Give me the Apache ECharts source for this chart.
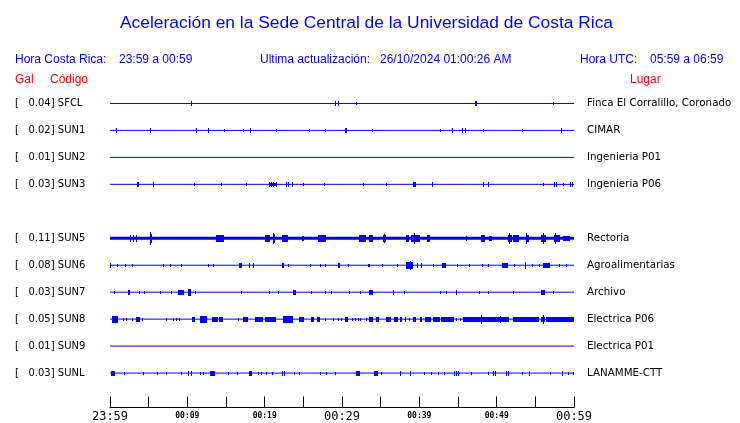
<!DOCTYPE html>
<html><head><meta charset="utf-8">
<script src="https://cdn.jsdelivr.net/npm/echarts@6/dist/echarts.min.js"></script>
<style>html,body{margin:0;padding:0;background:#fff}#c{width:740px;height:423px}</style>
</head><body><div id="c"></div>
<script>
// ---- data ----
const stations = ['SFCL','SUN1','SUN2','SUN3','','SUN5','SUN6','SUN7','SUN8','SUN9','SUNL'];
const galValues = ['0.04','0.02','0.01','0.03','','0.11','0.08','0.03','0.05','0.01','0.03'];
const places = ['Finca El Corralillo, Coronado','CIMAR','Ingenieria P01','Ingenieria P06','','Rectoria','Agroalimentarias','Archivo','Electrica P06','Electrica P01','LANAMME-CTT'];
// time axis: minutes after 23:59
const tickLabels = ['23:59','','00:09','','00:19','','00:29','','00:39','','00:49','','00:59'];
const bigTickLabels = ['23:59','00:29','00:59'];
// events: [start minute, end minute, half amplitude]
const evSFCL = [[10.6,10.6,0.5],[29.1,29.1,0.7],[29.6,29.6,0.7],[31.9,31.9,0.4],[47.3,47.5,0.5],[57.4,57.4,0.4]];
const evSUN1 = [[0.8,0.8,0.5],[5.3,5.3,0.5],[11.2,11.2,0.5],[12.7,12.7,0.5],[14.8,14.8,0.3],[17.2,17.2,0.3],[18.2,18.2,0.5],[21.5,21.5,0.3],[25.8,25.8,0.4],[27.9,27.9,0.3],[30.5,30.7,0.5],[34.0,34.0,0.3],[42.7,42.7,0.3],[44.3,44.3,0.5],[45.6,45.6,0.5],[46.0,46.0,0.5],[48.3,48.3,0.3],[53.3,53.3,0.4],[58.4,58.4,0.5]];
const evSUN2 = [];
const evSUN3 = [[3.55,3.75,0.6],[5.6,5.6,0.5],[10.9,10.9,0.3],[14.4,14.4,0.3],[17.6,17.6,0.4],[20.6,21.5,0.4],[20.6,20.6,0.7],[20.9,20.9,0.7],[21.2,21.2,0.7],[21.5,21.5,0.7],[22.85,22.85,0.6],[23.1,23.1,0.6],[23.6,23.6,0.5],[25.0,25.0,0.3],[27.8,27.8,0.3],[32.75,32.75,0.4],[35.7,35.7,0.4],[39.3,39.6,0.6],[41.7,41.7,0.5],[48.3,48.3,0.5],[48.9,48.9,0.5],[56.0,56.0,0.4],[57.45,57.45,0.5],[57.7,57.9,0.6],[58.6,58.6,0.4],[59.5,59.5,0.5],[59.8,59.8,0.5]];
const evSUN5 = [[2.7,2.7,0.9],[3.0,3.0,0.9],[3.45,3.45,0.9],[5.2,5.2,1.8],[5.2,5.5,1.1],[13.8,14.75,0.9],[20.1,20.8,0.9],[21.1,21.4,1.1],[21.2,21.2,1.6],[22.3,23.1,0.8],[24.9,25.2,0.7],[27.0,28.0,0.9],[32.3,33.2,0.8],[33.6,34.1,0.8],[35.4,35.7,0.8],[35.5,35.5,1.3],[38.3,38.7,0.8],[39.0,40.1,1.0],[39.4,39.4,1.5],[41.0,41.5,0.8],[46.1,46.1,0.7],[48.1,48.5,0.8],[49.1,49.5,0.7],[51.5,52.0,0.9],[51.6,51.6,1.6],[52.2,52.9,1.0],[53.8,54.2,0.8],[53.9,53.9,1.4],[55.8,56.5,1.0],[56.0,56.0,1.5],[57.5,58.2,1.0],[57.6,57.6,1.4],[58.6,59.5,0.7]];
const evSUN6 = [[0.0,0.0,0.5],[1.0,1.0,0.3],[2.0,2.0,0.3],[2.9,2.9,0.3],[6.9,6.9,0.4],[7.85,7.85,0.4],[9.3,9.3,0.4],[12.7,12.7,0.3],[13.4,13.4,0.4],[16.7,17.15,0.7],[18.0,18.0,0.6],[18.5,18.5,0.5],[22.35,22.55,0.7],[23.1,23.1,0.4],[25.9,25.9,0.4],[27.2,27.2,0.4],[27.9,27.9,0.4],[29.5,29.8,0.7],[30.8,30.8,0.3],[33.4,33.4,0.4],[33.6,33.6,0.3],[35.3,35.3,0.3],[37.15,37.15,0.4],[38.4,39.2,0.8],[38.8,38.8,1.2],[39.8,39.8,0.5],[40.3,40.3,0.5],[41.8,41.8,0.4],[43.0,43.45,0.7],[44.9,44.9,0.4],[46.55,46.55,0.3],[48.2,48.2,0.4],[49.0,49.0,0.3],[50.8,51.5,0.7],[52.3,52.3,0.4],[53.7,53.9,0.9],[54.6,54.6,0.4],[55.5,55.5,0.3],[56.0,56.9,0.6],[58.1,58.1,0.4],[59.05,59.05,0.4]];
const evSUN7 = [[0.55,0.55,0.3],[2.35,2.6,0.7],[3.8,3.8,0.4],[4.5,4.5,0.3],[6.55,6.55,0.4],[7.9,7.9,0.3],[8.8,9.6,0.7],[10.1,10.55,0.8],[11.1,11.1,0.4],[17.0,17.0,0.4],[20.6,20.6,0.4],[21.8,21.8,0.3],[23.7,24.15,0.7],[26.1,26.1,0.4],[27.9,27.9,0.4],[28.6,28.6,0.4],[31.0,31.0,0.4],[32.4,32.4,0.3],[33.6,34.1,0.6],[36.6,36.85,0.6],[38.05,38.05,0.3],[42.8,42.8,0.3],[43.45,43.45,0.4],[44.8,44.8,0.6],[47.75,47.75,0.3],[48.9,48.9,0.4],[52.15,52.15,0.3],[55.8,56.25,0.6],[57.3,57.3,0.3]];
const evSUN8 = [[0.35,1.05,0.8],[1.8,1.8,0.4],[2.15,2.15,0.4],[2.9,2.9,0.4],[3.45,3.9,0.6],[4.2,4.2,0.4],[7.3,7.3,0.4],[8.2,8.2,0.4],[8.6,8.6,0.3],[9.05,9.05,0.4],[10.65,11.0,0.7],[11.65,12.6,0.8],[13.3,14.0,0.7],[14.2,14.65,0.7],[16.6,16.6,0.4],[17.25,17.9,0.6],[18.75,19.8,0.7],[20.05,21.55,0.7],[22.4,23.7,0.8],[24.55,25.2,0.7],[26.1,26.5,0.5],[26.8,27.25,0.6],[27.9,27.9,0.4],[28.9,28.9,0.3],[29.5,29.5,0.4],[29.95,29.95,0.3],[30.4,30.8,0.6],[31.3,31.3,0.4],[31.7,31.7,0.4],[32.1,32.1,0.4],[32.45,32.45,0.4],[33.2,33.2,0.4],[33.6,34.05,0.6],[34.5,34.8,0.5],[35.7,36.4,0.7],[36.85,37.3,0.6],[37.5,37.85,0.6],[38.15,38.35,0.5],[38.7,38.7,0.4],[39.2,39.65,0.6],[40.2,40.45,0.6],[40.85,41.6,0.6],[41.8,42.7,0.6],[42.9,44.6,0.6],[44.8,44.8,0.4],[45.35,45.35,0.4],[45.7,47.85,0.6],[47.85,50.45,0.6],[48.1,48.1,1.1],[50.45,50.45,0.9],[50.65,51.7,0.6],[52.15,55.6,0.6],[55.8,56.25,0.7],[56.0,56.0,1.1],[56.5,58.2,0.6],[58.2,60.0,0.7]];
const evSUN9 = [];
const evSUNL = [[0.13,0.65,0.7],[1.85,1.85,0.4],[4.3,4.3,0.3],[6.1,6.1,0.3],[7.25,7.25,0.4],[9.2,9.2,0.4],[10.1,10.1,0.5],[10.5,10.5,0.5],[11.65,11.65,0.4],[12.05,12.05,0.4],[12.95,13.7,0.7],[15.3,15.3,0.4],[16.45,16.45,0.4],[18.1,18.45,0.7],[19.2,19.2,0.4],[19.6,19.6,0.4],[20.25,20.25,0.4],[21.05,21.05,0.3],[22.35,22.35,0.5],[22.55,22.55,0.5],[23.9,23.9,0.4],[24.55,24.55,0.4],[27.25,27.25,0.4],[27.95,27.95,0.4],[29.1,29.1,0.3],[31.9,32.4,0.7],[34.25,34.7,0.7],[35.1,35.1,0.4],[37.5,37.7,0.6],[38.8,38.8,0.6],[40.7,40.7,0.3],[41.6,41.6,0.3],[42.45,42.45,0.3],[43.3,43.3,0.3],[44.5,44.5,0.5],[44.85,44.85,0.5],[45.05,45.05,0.5],[46.7,46.7,0.3],[48.9,48.9,0.3],[49.55,49.55,0.5],[49.85,49.85,0.5],[51.3,51.3,0.5],[51.5,51.5,0.5],[53.3,53.3,0.4],[54.2,54.2,0.5],[56.9,56.9,0.3],[58.55,58.55,0.6],[59.25,59.25,0.4],[59.9,59.9,0.4]];
const stationEvents = [evSFCL, evSUN1, evSUN2, evSUN3, null, evSUN5, evSUN6, evSUN7, evSUN8, evSUN9, evSUNL];

// ---- styling / layout ----
const BLUE = '#0000ff', RED = '#ff0000';
const ROW = 10;               // y units between traces
const AMP_GAIN = 1.2;         // drawing gain for event amplitudes
const gridTop = 76.5, gridBottom = 408, pxPerRow = 27;
const yMax = -ROW + (gridBottom - gridTop) / pxPerRow * ROW;
const thickRows = {5: 3};

const chart = echarts.init(document.getElementById('c'), null, {renderer: 'canvas'});

const eventData = [];
stationEvents.forEach((ev, r) => { if (ev) ev.forEach(e => eventData.push([e[0], e[1], e[2], r * ROW])); });

const baseSeries = [];
stationEvents.forEach((ev, r) => {
  if (!ev) return;
  baseSeries.push({
    type: 'line', xAxisIndex: 0, yAxisIndex: 0, symbol: 'none', silent: true, animation: false,
    lineStyle: {color: BLUE, width: thickRows[r] || 1},
    data: [[0, r * ROW], [60, r * ROW]]
  });
});

function renderEvent(params, api) {
  const t0 = api.value(0), t1 = api.value(1), a = api.value(2), y = api.value(3);
  const pc0 = api.coord([t0, y]);
  const pc1 = api.coord([t1, y]);
  const pa = api.coord([t0, y + a]);
  const n = Math.max(1, Math.round(Math.abs(pa[1] - pc0[1]) * AMP_GAIN));
  let x0 = Math.round(Math.min(pc0[0], pc1[0]) - 0.5);
  let x1 = Math.round(Math.max(pc0[0], pc1[0]) - 0.5);
  if (x1 - x0 < 1) x1 = x0 + 1;
  const cy = Math.floor(pc0[1]);
  return {type: 'rect', shape: {x: x0, y: cy - n, width: x1 - x0, height: 2 * n + 1}, style: {fill: BLUE}};
}

function rowLabel(v, fn) {
  const r = Math.round(v / ROW);
  if (Math.abs(v - r * ROW) > 0.01 || r < 0 || r >= stations.length || !stations[r]) return '';
  return fn(r);
}

const hdr = {fontFamily: 'Liberation Sans', fontSize: 12, fill: BLUE};
function txt(x, y, s, style) {
  return {type: 'text', x: x, y: y, style: Object.assign({text: s, verticalAlign: 'middle', align: 'left'}, style)};
}

chart.setOption({
  animation: false,
  backgroundColor: '#fff',
  grid: {left: 110, right: 740 - 574, top: gridTop, bottom: 423 - gridBottom},
  xAxis: {
    type: 'value', min: 0, max: 60, interval: 5, position: 'bottom',
    axisLine: {show: true, onZero: false, lineStyle: {color: '#000', width: 1}},
    axisTick: {show: true, inside: true, length: 11, lineStyle: {color: '#000', width: 1}},
    splitLine: {show: false},
    axisLabel: {
      margin: 3, showMinLabel: true, showMaxLabel: true,
      formatter: v => {
        const s = tickLabels[Math.round(v / 5)];
        if (!s) return '';
        return bigTickLabels.includes(s) ? '{b|' + s + '}' : '{s|' + s + '}';
      },
      rich: {
        b: {fontFamily: 'DejaVu Sans Mono', fontSize: 12, color: '#000', lineHeight: 13},
        s: {fontFamily: 'DejaVu Sans Mono', fontSize: 8, fontWeight: 'bold', color: '#000', lineHeight: 11}
      }
    }
  },
  yAxis: [{
    type: 'value', inverse: true, min: -ROW, max: yMax, interval: ROW, position: 'left',
    axisLine: {show: false}, axisTick: {show: false}, splitLine: {show: false},
    axisLabel: {
      align: 'left', margin: 95, color: '#000', fontFamily: 'DejaVu Sans', fontSize: 10,
      showMinLabel: true, showMaxLabel: false,
      formatter: v => rowLabel(v, r => '[   ' + galValues[r] + '] ' + stations[r])
    }
  }, {
    type: 'value', inverse: true, min: -ROW, max: yMax, interval: ROW, position: 'right',
    axisLine: {show: false}, axisTick: {show: false}, splitLine: {show: false},
    axisLabel: {
      align: 'left', margin: 13, color: '#000', fontFamily: 'DejaVu Sans', fontSize: 10.3,
      showMinLabel: true, showMaxLabel: false,
      formatter: v => rowLabel(v, r => places[r])
    }
  }],
  graphic: [
    txt(120, 23, 'Aceleración en la Sede Central de la Universidad de Costa Rica', {fontFamily: 'Liberation Sans', fontSize: 17.4, fill: BLUE}),
    txt(15, 60, 'Hora Costa Rica:', hdr),
    txt(119, 60, '23:59 a 00:59', hdr),
    txt(260, 60, 'Ultima actualización:', hdr),
    txt(380, 60, '26/10/2024 01:00:26 AM', hdr),
    txt(580, 60, 'Hora UTC:', hdr),
    txt(650, 60, '05:59 a 06:59', hdr),
    txt(15, 80, 'Gal', Object.assign({}, hdr, {fill: RED})),
    txt(50, 80, 'Código', Object.assign({}, hdr, {fill: RED})),
    txt(630, 80, 'Lugar', Object.assign({}, hdr, {fill: RED}))
  ],
  series: baseSeries.concat([{
    type: 'custom', xAxisIndex: 0, yAxisIndex: 0, silent: true,
    renderItem: renderEvent,
    encode: {x: [0, 1], y: [3]},
    data: eventData
  }])
});
</script>
</body></html>
